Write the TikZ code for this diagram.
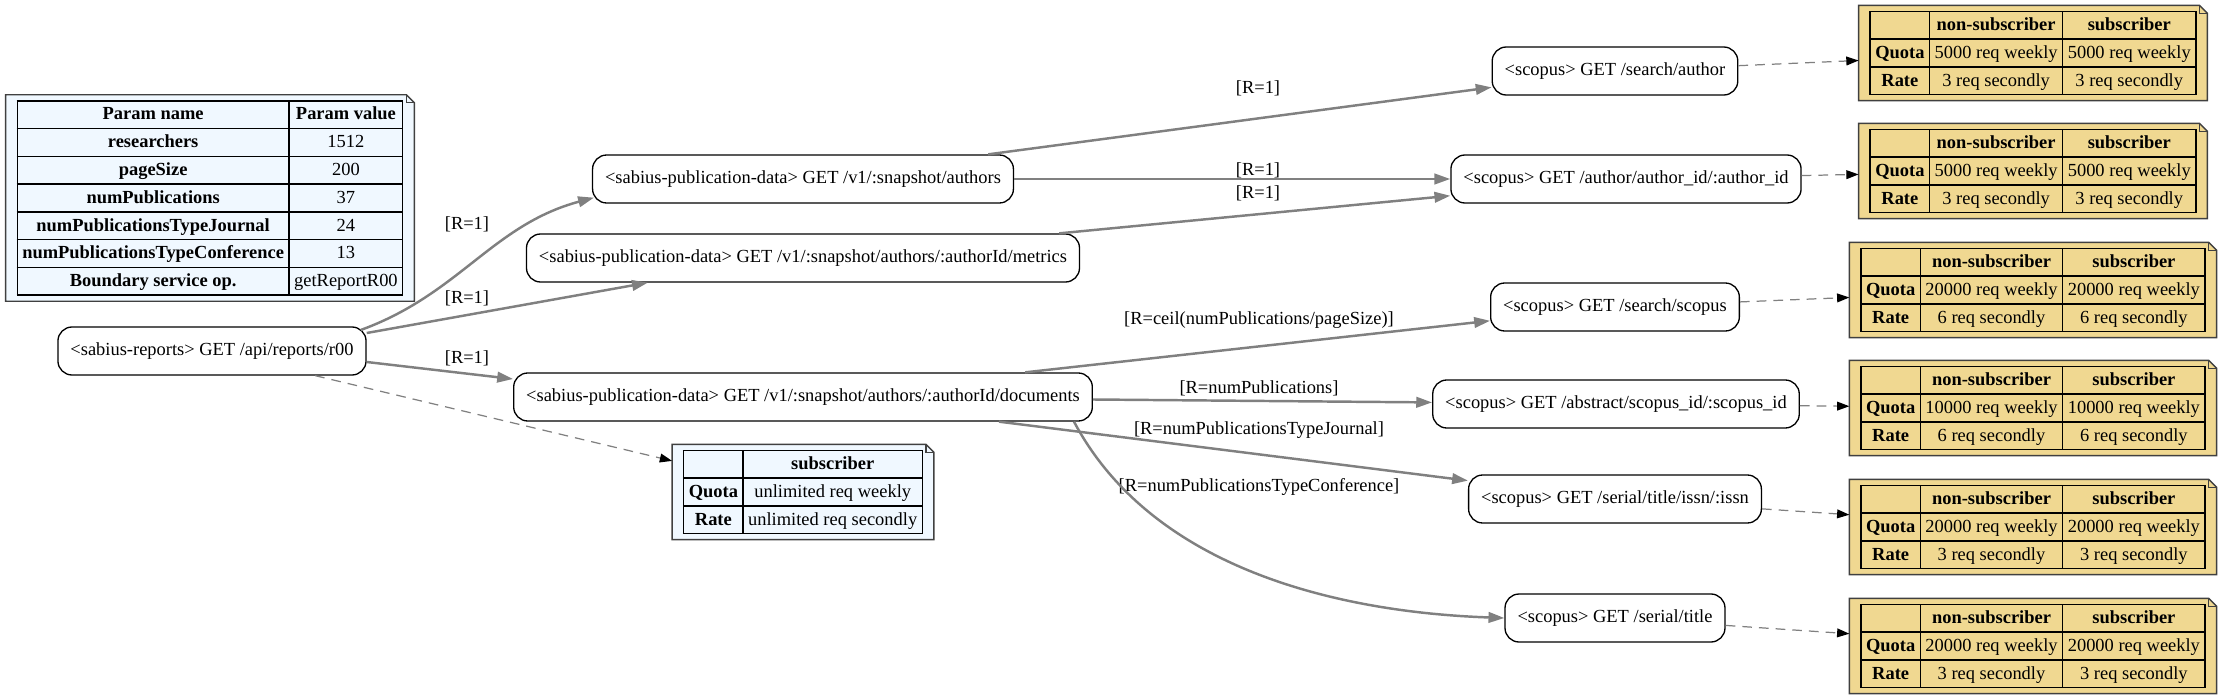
\documentclass[tikz,border=0pt]{standalone}
\usepackage{fontspec}
\setmainfont{Liberation Serif}
\usepackage{array}
\usetikzlibrary{arrows.meta,backgrounds}

\definecolor{quotatan}{RGB}{240,216,145}
\definecolor{quotablue}{RGB}{240,248,255}
\definecolor{callgray}{RGB}{128,128,128}

\setlength{\arrayrulewidth}{0.8pt}
\setlength{\tabcolsep}{2.5pt}
\renewcommand{\arraystretch}{1.25}

\begin{document}
\begin{tikzpicture}[
	x=0.02cm, y=-0.02cm,
	font=\fontsize{10.5}{12}\selectfont,
	op/.style={draw, rounded corners=8pt, line width=0.75pt, minimum height=0.96cm, inner xsep=0.25cm, inner ysep=0pt},
	quota/.style={inner xsep=0.21cm, inner ysep=0.1cm},
	notefold/.style={draw=black!75, line width=0.8pt},
	call/.style={-{Triangle[length=9pt,width=6pt]}, draw=callgray, line width=1.4pt},
	limit/.style={-{Triangle[length=7pt,width=5pt,color=black]}, draw=callgray, line width=0.7pt, dash pattern=on 5.5pt off 4pt},
	lbl/.style={inner sep=1pt}
	]
	\useasboundingbox (0,0) rectangle (2219,699);
	
	% boundary service
	\node[op] (reports) at (212,351) {<sabius-reports> GET /api/reports/r00};
	
	% sabius-publication-data
	\node[op] (authors) at (803,179) {<sabius-publication-data> GET /v1/:snapshot/authors};
	\node[op] (metrics) at (803,258) {<sabius-publication-data> GET /v1/:snapshot/authors/:authorId/metrics};
	\node[op] (documents) at (803,397) {<sabius-publication-data> GET /v1/:snapshot/authors/:authorId/documents};
	
	% scopus
	\node[op] (sauthor) at (1615,71) {<scopus> GET /search/author};
	\node[op] (authorid) at (1626,179) {<scopus> GET /author/author\_id/:author\_id};
	\node[op] (sscopus) at (1615,307) {<scopus> GET /search/scopus};
	\node[op] (abstract) at (1616,404) {<scopus> GET /abstract/scopus\_id/:scopus\_id};
	\node[op] (issn) at (1615,499) {<scopus> GET /serial/title/issn/:issn};
	\node[op] (stitle) at (1615,618) {<scopus> GET /serial/title};
	
	% parameters and quotas
	\node[quota] (params) at (210,198) {\begin{tabular}{|c|c|}\hline
			\textbf{Param name} & \textbf{Param value}\\\hline
			\textbf{researchers} & 1512\\\hline
			\textbf{pageSize} & 200\\\hline
			\textbf{numPublications} & 37\\\hline
			\textbf{numPublicationsTypeJournal} & 24\\\hline
			\textbf{numPublicationsTypeConference} & 13\\\hline
			\textbf{Boundary service op.} & getReportR00\\\hline
		\end{tabular}};
	
	\node[quota] (sub) at (803,492) {\begin{tabular}{|c|c|}\hline
			 & \textbf{subscriber}\\\hline
			\textbf{Quota} & unlimited req weekly\\\hline
			\textbf{Rate} & unlimited req secondly\\\hline
		\end{tabular}};
	
	\node[quota] (lim1) at (2033,53) {\begin{tabular}{|c|c|c|}\hline
			 & \textbf{non-subscriber} & \textbf{subscriber}\\\hline
			\textbf{Quota} & 5000 req weekly & 5000 req weekly\\\hline
			\textbf{Rate} & 3 req secondly & 3 req secondly\\\hline
		\end{tabular}};
	
	\node[quota] (lim2) at (2033,171) {\begin{tabular}{|c|c|c|}\hline
			 & \textbf{non-subscriber} & \textbf{subscriber}\\\hline
			\textbf{Quota} & 5000 req weekly & 5000 req weekly\\\hline
			\textbf{Rate} & 3 req secondly & 3 req secondly\\\hline
		\end{tabular}};
	
	\node[quota] (lim3) at (2033,290) {\begin{tabular}{|c|c|c|}\hline
			 & \textbf{non-subscriber} & \textbf{subscriber}\\\hline
			\textbf{Quota} & 20000 req weekly & 20000 req weekly\\\hline
			\textbf{Rate} & 6 req secondly & 6 req secondly\\\hline
		\end{tabular}};
	
	\node[quota] (lim4) at (2033,408) {\begin{tabular}{|c|c|c|}\hline
			 & \textbf{non-subscriber} & \textbf{subscriber}\\\hline
			\textbf{Quota} & 10000 req weekly & 10000 req weekly\\\hline
			\textbf{Rate} & 6 req secondly & 6 req secondly\\\hline
		\end{tabular}};
	
	\node[quota] (lim5) at (2033,527) {\begin{tabular}{|c|c|c|}\hline
			 & \textbf{non-subscriber} & \textbf{subscriber}\\\hline
			\textbf{Quota} & 20000 req weekly & 20000 req weekly\\\hline
			\textbf{Rate} & 3 req secondly & 3 req secondly\\\hline
		\end{tabular}};
	
	\node[quota] (lim6) at (2033,646) {\begin{tabular}{|c|c|c|}\hline
			 & \textbf{non-subscriber} & \textbf{subscriber}\\\hline
			\textbf{Quota} & 20000 req weekly & 20000 req weekly\\\hline
			\textbf{Rate} & 3 req secondly & 3 req secondly\\\hline
		\end{tabular}};
	
	% note outlines with folded corner
	\begin{scope}[on background layer]
		\foreach \tbl/\col in {params/quotablue, sub/quotablue, lim1/quotatan, lim2/quotatan, lim3/quotatan, lim4/quotatan, lim5/quotatan, lim6/quotatan}{
			\draw[notefold, fill=\col] (\tbl.north west) -- ([xshift=-0.16cm]\tbl.north east) -- ([yshift=-0.16cm]\tbl.north east) -- (\tbl.south east) -- (\tbl.south west) -- cycle;
			\draw[notefold] ([xshift=-0.16cm]\tbl.north east) -- ([xshift=-0.16cm,yshift=-0.16cm]\tbl.north east) -- ([yshift=-0.16cm]\tbl.north east);
		}
	\end{scope}
	
	% call labels
	\node[lbl] (lblauthors) at (467,224) {[R=1]};
	\node[lbl] (lblmetrics) at (467,298) {[R=1]};
	\node[lbl] (lbldocuments) at (467,358) {[R=1]};
	\node[lbl] (lblsauthor) at (1258,88) {[R=1]};
	\node[lbl] (lblauthorid) at (1258,170) {[R=1]};
	\node[lbl] (lblmetricsid) at (1258,193) {[R=1]};
	\node[lbl] (lblsscopus) at (1259,320) {[R=ceil(numPublications/pageSize)]};
	\node[lbl] (lblabstract) at (1259,388) {[R=numPublications]};
	\node[lbl] (lblissn) at (1259,430) {[R=numPublicationsTypeJournal]};
	\node[lbl] (lblstitle) at (1259,487) {[R=numPublicationsTypeConference]};
	
	% calls
	\draw[call] ([xshift=-0.12cm,yshift=0.42cm]reports.east) to[out=20,in=195] ([xshift=0.04cm,yshift=0.12cm]authors.south west);
	\draw[call] ([yshift=0.36cm]reports.east) -- ([xshift=2.44cm]metrics.south west);
	\draw[call] ([yshift=-0.22cm]reports.east) -- ([yshift=0.36cm]documents.west);
	
	\draw[call] (authors) -- (sauthor);
	\draw[call] (authors) -- (authorid);
	\draw[call] (metrics) -- (authorid);
	
	\draw[call] (documents) -- (sscopus);
	\draw[call] (documents) -- (abstract);
	\draw[call] (documents) -- (issn);
	\draw[call] ([xshift=-0.38cm]documents.south east) to[out=-62,in=178,looseness=0.9] (stitle.west);
	
	% quota links
	\draw[limit] (reports) -- (sub);
	\draw[limit] (sauthor) -- (lim1);
	\draw[limit] (authorid) -- (lim2);
	\draw[limit] (sscopus) -- (lim3);
	\draw[limit] (abstract) -- (lim4);
	\draw[limit] (issn) -- (lim5);
	\draw[limit] (stitle) -- (lim6);
	
\end{tikzpicture}
\end{document}
